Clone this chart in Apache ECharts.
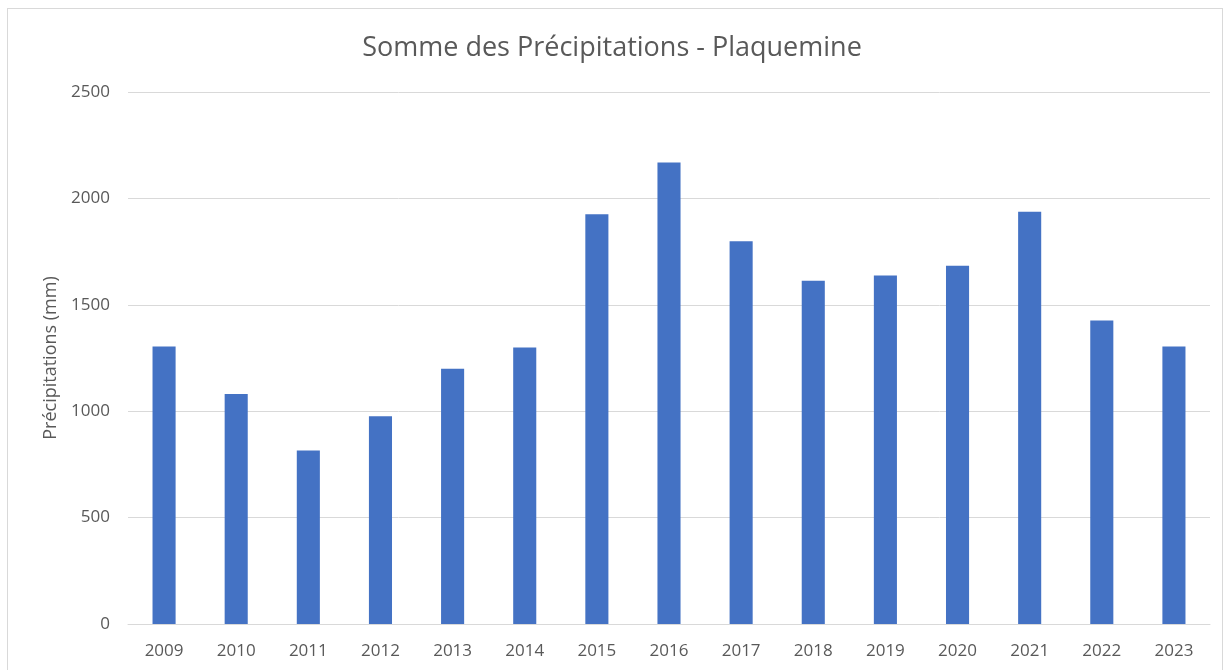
<!DOCTYPE html>
<html>
<head>
<meta charset="utf-8">
<script src="https://cdn.jsdelivr.net/npm/echarts@6/dist/echarts.min.js"></script>
<style>
  html, body { margin: 0; padding: 0; background: #fff; }
  #frame { position: absolute; left: 7px; top: 8px; width: 1216px; height: 670px; border: 1px solid #d9d9d9; box-sizing: border-box; }
  #chart { position: absolute; left: 0; top: 0; width: 1224px; height: 670px; }
</style>
</head>
<body>
<div id="frame"></div>
<div id="chart"></div>
<script>
// annees et cumuls annuels (mm)
var years = ['2009', '2010', '2011', '2012', '2013', '2014', '2015', '2016',
             '2017', '2018', '2019', '2020', '2021', '2022', '2023'];
var precip = [1304, 1081, 815, 976, 1199, 1299, 1926, 2169,
              1799, 1613, 1638, 1683, 1937, 1426, 1304];

var font = '"Open Sans", "Noto Sans", sans-serif';
var txt = '#595959';

var chart = echarts.init(document.getElementById('chart'));
chart.setOption({
  animation: false,
  title: {
    text: 'Somme des Précipitations - Plaquemine',
    left: 'center',
    top: 30,
    textStyle: { fontFamily: font, fontSize: 27, fontWeight: 'normal', color: txt }
  },
  grid: { left: 128, right: 14, top: 92, bottom: 46 },
  xAxis: {
    type: 'category',
    data: years,
    axisLine: { lineStyle: { color: '#d9d9d9' } },
    axisTick: { show: false },
    axisLabel: { fontFamily: font, fontSize: 17, color: txt, margin: 19 }
  },
  yAxis: {
    type: 'value',
    min: 0,
    max: 2500,
    interval: 500,
    name: 'Précipitations (mm)',
    nameLocation: 'middle',
    nameGap: 68,
    nameTextStyle: { fontFamily: font, fontSize: 18, color: txt },
    axisLine: { show: false },
    axisTick: { show: false },
    axisLabel: { fontFamily: font, fontSize: 17, color: txt, margin: 18, formatter: function (v) { return String(v); } },
    splitLine: { lineStyle: { color: '#d9d9d9', width: 1 } }
  },
  series: [{
    type: 'bar',
    data: precip,
    barWidth: '32%',
    itemStyle: { color: '#4472C4' }
  }]
});
</script>
</body>
</html>
